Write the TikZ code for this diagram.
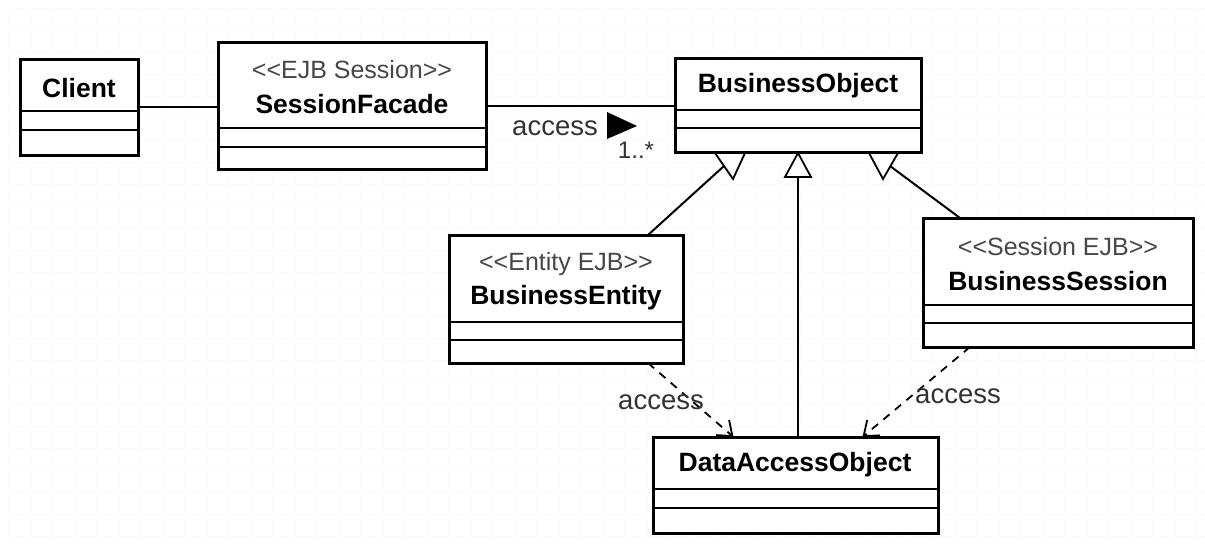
\documentclass[tikz,border=0pt]{standalone}
\usepackage{fontspec}
\setmainfont{Liberation Sans}
\usetikzlibrary{arrows.meta}

% class box with two compartment dividers: id, x1, y1, x2, y2, divider 1, divider 2
\newcommand{\umlclass}[7]{%
  \node[classbox, minimum width={(#4-#2)*1pt}, minimum height={(#5-#3)*1pt}] (#1) at (#2,#3) {};
  \draw[divider] (#2,#6) -- (#4,#6);
  \draw[divider] (#2,#7) -- (#4,#7);
}
% stereotype guillemets written as plain angle brackets
\newcommand{\stlt}{{<}{<}}
\newcommand{\stgt}{{>}{>}}

\begin{document}
\begin{tikzpicture}[x=1pt,y=-1pt,
  classbox/.style={draw=black, line width=3pt, fill=white, inner sep=0pt, outer sep=0pt, anchor=north west},
  divider/.style={line width=2pt},
  link/.style={line width=2pt},
  gridline/.style={black!2, line width=1pt},
  dep/.style={line width=1.8pt, dash pattern=on 8pt off 7pt,
    -{Straight Barb[length=13pt,width=20pt,line width=1.8pt]}},
  gen/.style={line width=1.8pt, fill=white, line join=miter},
  cname/.style={font=\fontsize{26.5}{30}\selectfont\bfseries},
  stereo/.style={font=\fontsize{25}{28}\selectfont, text=black!72},
  lbl/.style={font=\fontsize{27.5}{30}\selectfont, text=black!80},
]
\useasboundingbox (0,0) rectangle (1205,549);
\fill[white] (0,0) rectangle (1205,549);

% faint drawing-area grid
\foreach \gx in {8,30,...,1205} \draw[gridline] (\gx,8) -- (\gx,549);
\foreach \gy in {8,30,...,549} \draw[gridline] (8,\gy) -- (1205,\gy);

% classes
\umlclass{client}{20}{59}{138}{155}{111}{130}
\umlclass{sf}{218}{42}{486}{169}{128}{147}
\umlclass{bo}{675}{58}{921}{152}{110}{128}
\umlclass{be}{449}{235}{683}{363}{322}{340}
\umlclass{bs}{923}{218}{1193}{347}{305}{323}
\umlclass{dao}{653}{437}{938}{533}{489}{508}

% class names and stereotypes
\node[cname] (clientname) at (79,88) {Client};
\node[stereo] (sfst) at (352,70) {\stlt EJB Session\stgt};
\node[cname] (sfname) at (352,104) {SessionFacade};
\node[cname] (boname) at (798,86) {BusinessObject};
\node[stereo] (best) at (566,264) {\stlt Entity EJB\stgt};
\node[cname] (bename) at (566,298) {BusinessEntity};
\node[stereo] (bsst) at (1058,247) {\stlt Session EJB\stgt};
\node[cname] (bsname) at (1058,281) {BusinessSession};
\node[cname] (daoname) at (795,465) {DataAccessObject};

% associations
\draw[link] (client.east) -- (client.east -| sf.west);
\draw[link] (sf.east) -- (sf.east -| bo.west);
\fill (607,112) -- (637,126) -- (607,139) -- cycle;
\node[lbl] (acc0) at (555,128) {access};
\node[lbl, font=\fontsize{24}{26}\selectfont] (mult) at (636,150) {1..*};

% generalizations
\coordinate (t1) at (724,166);
\coordinate (t2) at (798,177);
\coordinate (t3) at (890,166);
\draw[link] ([xshift=82pt]be.north) -- (t1);
\filldraw[gen] (715,153) -- (745,153) -- (733,179) -- cycle;
\draw[link] (dao.north -| t2) -- (t2);
\filldraw[gen] (785,177) -- (811,177) -- (798,153) -- cycle;
\draw[link] ([xshift=-98pt]bs.north) -- (t3);
\filldraw[gen] (869,153) -- (898,153) -- (883,179) -- cycle;

% dependencies
\draw[dep] ([xshift=82pt]be.south) -- ([xshift=-62pt]dao.north);
\node[lbl] (acc1) at (661,402) {access};
\draw[dep] ([xshift=-88pt]bs.south) -- ([xshift=67pt]dao.north);
\node[lbl] (acc2) at (958,396) {access};
\end{tikzpicture}
\end{document}
